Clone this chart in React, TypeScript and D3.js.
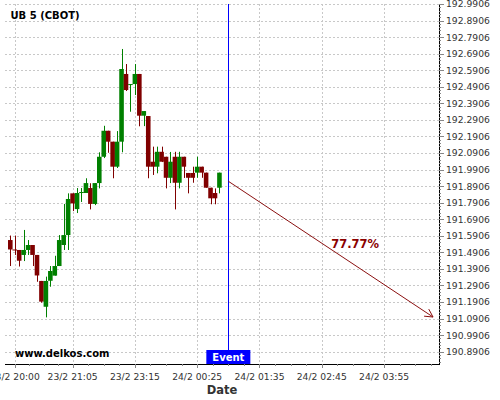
import React from "react";
import * as d3 from "d3";

const title = "UB 5 (CBOT)";
const watermark = "www.delkos.com";
const eventLabel = "Event";
const probability = "77.77%";
const xAxisTitle = "Date";

const opens = [191.565,191.508,191.505,191.475,191.505,191.535,191.475,191.318,191.162,191.319,191.350,191.408,191.535,191.595,191.847,191.752,191.852,191.849,191.879,191.783,191.909,192.068,192.225,192.159,192.008,192.159,192.568,192.505,192.507,192.568,192.316,192.314,192.038,192.008,192.098,192.068,191.941,192.068,191.911,192.068,191.970,191.970,191.972,192.008,191.972,191.881,191.849,191.881];
const closes = [191.508,191.502,191.440,191.505,191.535,191.475,191.351,191.193,191.318,191.378,191.408,191.565,191.595,191.813,191.786,191.849,191.855,191.909,191.783,191.909,192.068,192.225,192.159,192.008,192.159,192.598,192.471,192.507,192.568,192.316,192.344,192.008,192.008,192.098,192.038,191.941,192.038,191.911,192.068,192.008,191.941,191.941,192.008,191.972,191.881,191.817,191.817,191.972];
const highs = [191.592,191.592,191.505,191.626,191.565,191.535,191.475,191.318,191.344,191.408,191.470,191.595,191.783,191.847,191.847,191.879,191.879,191.938,191.908,191.909,192.095,192.255,192.225,192.159,192.223,192.719,192.628,192.507,192.628,192.568,192.344,192.314,192.129,192.129,192.129,192.068,192.097,192.098,192.098,192.068,191.970,192.008,192.068,192.008,191.972,191.881,191.877,191.972];
const lows = [191.408,191.475,191.405,191.438,191.475,191.408,191.313,191.187,191.098,191.283,191.350,191.408,191.505,191.505,191.740,191.728,191.795,191.849,191.750,191.776,191.877,192.060,192.092,191.938,192.000,192.095,192.465,192.340,192.441,192.252,192.253,191.938,191.958,191.968,192.036,191.877,191.909,191.750,191.877,191.940,191.847,191.911,191.941,191.941,191.881,191.781,191.781,191.847];

const xTickIndex = [1, 14, 28, 42, 56, 70, 84];
const xTickLabels = ["23/2 20:00", "23/2 21:05", "23/2 23:15", "24/2 00:25", "24/2 01:35", "24/2 02:45", "24/2 03:55"];
const yTickValues = d3.range(0, 22).map((i) => 190.8906 + i * 0.1);
const eventIndex = 49;
const arrowStart = [49, 191.92];
const arrowEnd = [95, 191.1];
const labelPoint = [77.5, 191.547];

const W = 500, H = 400;
const left = 5, right = 439, top = 4, bottom = 364;
const FONT = "DejaVu Sans, sans-serif";

export default function App() {
  const x = d3.scaleLinear().domain([-1.19, 96.34]).range([left, right]);
  const y = d3.scaleLinear().domain([190.8163, 192.9906]).range([bottom, top]);
  const step = x(1) - x(0);
  const bw = step * 1.03;
  const green = "#008000", red = "#800000";
  const arrowColor = "#8b1010";

  const minorX: number[] = [];
  for (let k = -1; k <= 7; k++) {
    for (let j = 1; j < 4; j++) {
      let v: number;
      if (k < 0) v = xTickIndex[0] - (4 - j) * (13 / 4);
      else if (k === 0) v = xTickIndex[0] + j * 13 / 4;
      else v = xTickIndex[0] + 13 + (k - 1) * 14 + j * 3.5;
      const px = x(v);
      if (px > left && px < right) minorX.push(px);
    }
  }
  const minorY: number[] = [];
  for (let i = -4; i < 22 * 5; i++) {
    if (i % 5 === 0) continue;
    const v = 190.8906 + i * 0.02;
    const py = y(v);
    if (py >= top && py <= bottom) minorY.push(py);
  }

  const x1 = x(arrowStart[0]), y1 = y(arrowStart[1]);
  const x2 = x(arrowEnd[0]), y2 = y(arrowEnd[1]);
  const ang = Math.atan2(y2 - y1, x2 - x1);
  const hl = 9, ha = (28 * Math.PI) / 180;
  const b1 = [x2 - hl * Math.cos(ang - ha), y2 - hl * Math.sin(ang - ha)];
  const b2 = [x2 - hl * Math.cos(ang + ha), y2 - hl * Math.sin(ang + ha)];

  const ex = x(eventIndex);

  return (
    <svg width={W} height={H} style={{ position: "absolute", left: 0, top: 0, background: "#fff" }} fontFamily={FONT}>
      <rect x={0} y={0} width={W} height={H} fill="#fff" />
      {/* grid */}
      {yTickValues.map((v, i) => (
        <line key={"gy" + i} x1={left} x2={right} y1={Math.round(y(v)) + 0.5} y2={Math.round(y(v)) + 0.5} stroke="#c8c8c8" strokeDasharray="2,2" />
      ))}
      {xTickIndex.map((v, i) => (
        <line key={"gx" + i} x1={Math.round(x(v)) + 0.5} x2={Math.round(x(v)) + 0.5} y1={top} y2={bottom} stroke="#c8c8c8" strokeDasharray="2,2" />
      ))}
      {/* candles */}
      {opens.map((o, i) => {
        const c = closes[i];
        const col = c >= o ? green : red;
        const cx = x(i);
        const yTop = y(Math.max(o, c));
        const yBot = y(Math.min(o, c));
        return (
          <g key={"c" + i}>
            <line x1={Math.round(cx) + 0.5} x2={Math.round(cx) + 0.5} y1={y(highs[i])} y2={y(lows[i])} stroke={col} strokeWidth={1} />
            <rect x={cx - bw / 2} y={yTop} width={bw} height={Math.max(1, yBot - yTop)} fill={col} />
          </g>
        );
      })}
      {/* event line */}
      <line x1={Math.round(ex) + 0.5} x2={Math.round(ex) + 0.5} y1={top} y2={bottom} stroke="#0000ff" strokeWidth={1} />
      {/* arrow */}
      <line x1={x1} y1={y1} x2={x2} y2={y2} stroke={arrowColor} strokeWidth={1} />
      <polyline points={`${b1[0]},${b1[1]} ${x2},${y2} ${b2[0]},${b2[1]}`} fill="none" stroke={arrowColor} strokeWidth={1} />
      <text x={x(labelPoint[0])} y={y(labelPoint[1]) + 4.5} textAnchor="middle" fontSize={11.5} fontWeight="bold" fill="#8b0000">{probability}</text>
      {/* title and watermark */}
      <text x={10.5} y={19.3} fontSize={10} fontWeight="bold" fill="#000">{title}</text>
      <text x={15} y={357.3} fontSize={10} fontWeight="bold" fill="#000">{watermark}</text>
      {/* event box */}
      <rect x={ex - 22} y={350} width={44} height={14} fill="#0000ff" />
      <text x={ex} y={361} textAnchor="middle" fontSize={10} fontWeight="bold" fill="#fff">{eventLabel}</text>
      {/* axes */}
      <line x1={right + 0.5} x2={right + 0.5} y1={top} y2={bottom + 1} stroke="#000" />
      <line x1={left} x2={right + 1} y1={bottom + 0.5} y2={bottom + 0.5} stroke="#000" />
      {yTickValues.map((v, i) => (
        <g key={"yt" + i}>
          <line x1={right} x2={right + 5} y1={Math.round(y(v)) + 0.5} y2={Math.round(y(v)) + 0.5} stroke="#888" />
          <text x={446} y={y(v) + 3.4} fontSize={9.2} fill="#333">{v.toFixed(4)}</text>
        </g>
      ))}
      {minorY.map((py, i) => (
        <line key={"my" + i} x1={right} x2={right + 2} y1={Math.round(py) + 0.5} y2={Math.round(py) + 0.5} stroke="#888" />
      ))}
      {xTickIndex.map((v, i) => (
        <g key={"xt" + i}>
          <line x1={Math.round(x(v)) + 0.5} x2={Math.round(x(v)) + 0.5} y1={bottom} y2={bottom + 4} stroke="#888" />
          <text x={x(v)} y={380} textAnchor="middle" fontSize={9.2} fill="#333">{xTickLabels[i]}</text>
        </g>
      ))}
      {minorX.map((px, i) => (
        <line key={"mx" + i} x1={Math.round(px) + 0.5} x2={Math.round(px) + 0.5} y1={bottom} y2={bottom + 2} stroke="#888" />
      ))}
      <text x={222} y={394} textAnchor="middle" fontSize={11.5} fontWeight="bold" fill="#333">{xAxisTitle}</text>
    </svg>
  );
}
